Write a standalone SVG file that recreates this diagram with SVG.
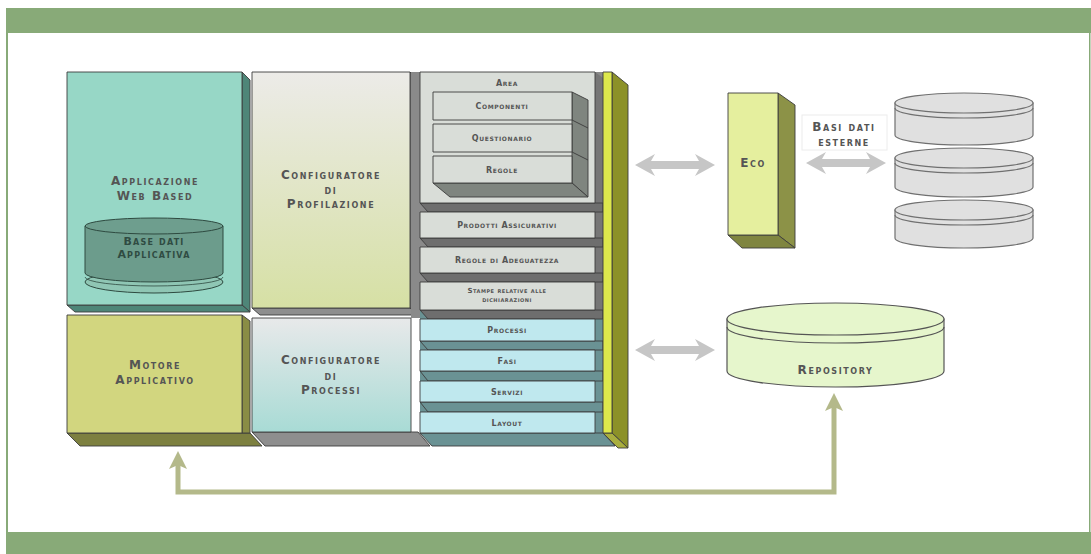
<svg xmlns="http://www.w3.org/2000/svg" width="1091" height="554" viewBox="0 0 1091 554">
<defs>
<style>
.t{font-family:"DejaVu Sans","Liberation Sans",sans-serif;font-variant:small-caps;font-weight:bold;fill:#555;text-anchor:middle}
.big{font-size:12px;letter-spacing:1.6px}
.mid{font-size:11px;letter-spacing:1.2px}
.sm{font-size:8px;letter-spacing:0.6px}
.xs{font-size:7px;letter-spacing:0.5px}
.edge{stroke:#3c3c3c;stroke-width:0.9;stroke-linejoin:round}
.gface{fill:#d9ddd8}
.cface{fill:#bfe8ee}
.gside{fill:#6e6e6e}
.tside{fill:#6a9294}
.db{fill:#e0e0e0;stroke:#707070;stroke-width:1.2}
.ring{fill:none;stroke:#707070;stroke-width:1.2}
.frame{fill:#88aa78}
</style>
<linearGradient id="gProf" x1="0" y1="0" x2="0" y2="1">
<stop offset="0" stop-color="#ecebe8"/>
<stop offset="1" stop-color="#d6e0a4"/>
</linearGradient>
<linearGradient id="gProc" x1="0" y1="0" x2="0" y2="1">
<stop offset="0" stop-color="#e8e9ea"/>
<stop offset="1" stop-color="#a8dbd5"/>
</linearGradient>
<marker id="oliveHead" markerUnits="userSpaceOnUse" markerWidth="20" markerHeight="18" viewBox="0 0 20 18" refX="5" refY="9" orient="auto-start-reverse">
<path d="M0,0 L18,9 L0,18 L4,9 Z" fill="#b4b98a"/>
</marker>
<path id="dbl" d="M0,0 L20,-11 L16,-4 L64,-4 L60,-11 L80,0 L60,11 L64,4 L16,4 L20,11 Z" fill="#c6c6c6"/>
</defs>

<g id="frame">
<rect class="frame" x="6" y="8" width="1085" height="25"/>
<rect class="frame" x="6" y="532" width="1085" height="22"/>
<rect class="frame" x="6" y="33" width="2" height="499"/>
<rect class="frame" x="1089" y="33" width="1.5" height="499"/>
</g>

<g id="app-web">
<polygon points="242,72 250,80 250,312 242,305" fill="#4e8678" class="edge"/>
<polygon points="67,305 242,305 250,312 75,312" fill="#4e8678" class="edge"/>
<rect x="67" y="72" width="175" height="233" fill="#97d7c6" class="edge"/>
<text class="t big" x="155" y="185">Applicazione</text>
<text class="t big" x="155" y="200">Web Based</text>
</g>

<g id="base-dati">
<ellipse cx="154" cy="282" rx="69" ry="11" fill="#8fc6b4" stroke="#2e4a40" stroke-width="1"/>
<path d="M85,226 L85,273 A69,9 0 0 0 223,273 L223,226 Z" fill="#6c9c8c" stroke="#2e4a40" stroke-width="1"/>
<ellipse cx="154" cy="226" rx="69" ry="8" fill="#6e9e8e" stroke="#2e4a40" stroke-width="1"/>
<path d="M85,277 A69,9 0 0 0 223,277" fill="none" stroke="#2e4a40" stroke-width="0.8"/>
<text class="t mid" x="154" y="245" style="fill:#2f4b42">Base dati</text>
<text class="t mid" x="154" y="258" style="fill:#2f4b42">Applicativa</text>
</g>

<g id="motore">
<polygon points="67,433 250,433 262,446 80,446" fill="#7d8040" class="edge"/>
<polygon points="242,315 250,321 250,433 242,433" fill="#8a8d45" class="edge"/>
<rect x="67" y="315" width="175" height="118" fill="#d2d67f" class="edge"/>
<text class="t big" x="155" y="369">Motore</text>
<text class="t big" x="155" y="384">Applicativo</text>
</g>

<g id="config-prof">
<polygon points="410,72 418,80 418,315 410,308" fill="#8e8e8e" class="edge"/>
<polygon points="252,308 410,308 418,315 260,315" fill="#8e8e8e" class="edge"/>
<rect x="252" y="72" width="158" height="236" fill="url(#gProf)" class="edge"/>
<text class="t big" x="331" y="179">Configuratore</text>
<text class="t big" x="331" y="194">di</text>
<text class="t big" x="331" y="208">Profilazione</text>
</g>

<g id="config-proc">
<polygon points="252,432 418,432 430,446 265,446" fill="#8e8e8e" class="edge"/>
<rect x="252" y="318" width="159" height="114" fill="url(#gProc)" class="edge"/>
<text class="t big" x="331" y="364">Configuratore</text>
<text class="t big" x="331" y="380">di</text>
<text class="t big" x="331" y="394">Processi</text>
</g>

<g id="column-back">
<rect x="411" y="72" width="192" height="246" fill="#8a8a8a"/>
<rect x="420" y="310" width="183" height="123" fill="#6a9294"/>
<polygon points="420,433 603,433 615,446 432,446" fill="#6a9294" class="edge"/>
<polygon points="595,72 603,78 603,318 595,318" fill="#767676"/>
</g>

<g id="area">
<polygon points="420,203 603,203 603,212 428,212" class="gside edge"/>
<rect x="420" y="72" width="175" height="131" class="gface edge"/>
<text class="t sm" x="507" y="86">Area</text>
<polygon points="572,92 588,100 588,197 572,183" fill="#7f857f" class="edge"/>
<polygon points="433,183 572,183 588,197 450,197" fill="#7f857f" class="edge"/>
<line x1="572" y1="120" x2="588" y2="128" class="edge"/>
<line x1="572" y1="152" x2="588" y2="160" class="edge"/>
</g>

<g id="componenti">
<rect x="433" y="92" width="139" height="28" class="gface edge"/>
<text class="t sm" x="502" y="109">Componenti</text>
</g>
<g id="questionario">
<rect x="433" y="124" width="139" height="28" class="gface edge"/>
<text class="t sm" x="502" y="141">Questionario</text>
</g>
<g id="regole">
<rect x="433" y="156" width="139" height="27" class="gface edge"/>
<text class="t sm" x="502" y="173">Regole</text>
</g>

<g id="prodotti">
<polygon points="420,238 603,238 603,247 428,247" class="gside edge"/>
<rect x="420" y="212" width="175" height="26" class="gface edge"/>
<text class="t sm" x="507" y="228">Prodotti Assicurativi</text>
</g>
<g id="regole-adeguatezza">
<polygon points="420,273 603,273 603,282 428,282" class="gside edge"/>
<rect x="420" y="247" width="175" height="26" class="gface edge"/>
<text class="t sm" x="507" y="263">Regole di Adeguatezza</text>
</g>
<g id="stampe">
<polygon points="420,310 603,310 603,319 428,319" class="gside edge"/>
<rect x="420" y="282" width="175" height="28" class="gface edge"/>
<text class="t xs" x="507" y="293">Stampe relative alle</text>
<text class="t xs" x="507" y="302">dichiarazioni</text>
</g>

<g id="processi">
<polygon points="420,341 603,341 603,350 428,350" class="tside edge"/>
<rect x="420" y="319" width="175" height="22" class="cface edge"/>
<text class="t sm" x="507" y="333">Processi</text>
</g>
<g id="fasi">
<polygon points="420,371 603,371 603,381 428,381" class="tside edge"/>
<rect x="420" y="350" width="175" height="21" class="cface edge"/>
<text class="t sm" x="507" y="364">Fasi</text>
</g>
<g id="servizi">
<polygon points="420,402 603,402 603,412 428,412" class="tside edge"/>
<rect x="420" y="381" width="175" height="21" class="cface edge"/>
<text class="t sm" x="507" y="395">Servizi</text>
</g>
<g id="layout">
<rect x="420" y="412" width="175" height="21" class="cface edge"/>
<text class="t sm" x="507" y="426">Layout</text>
</g>

<g id="yellow-bar">
<polygon points="612,72 628,85 628,448 612,433" fill="#8c9128" class="edge"/>
<polygon points="603,433 612,433 628,448 618,448" fill="#a9ae3e" class="edge"/>
<rect x="603" y="72" width="9" height="361" fill="#dde84c" class="edge"/>
</g>

<g id="eco">
<polygon points="778,93 795,105 795,248 778,235" fill="#8c9247" class="edge"/>
<polygon points="728,235 778,235 795,248 742,248" fill="#7f8540" class="edge"/>
<rect x="728" y="93" width="50" height="142" fill="#e5ef9e" class="edge"/>
<text class="t big" x="753" y="167">Eco</text>
</g>

<g id="basi-esterne">
<rect x="802" y="115" width="85" height="35" fill="#ffffff" stroke="#ececec" stroke-width="1"/>
<text class="t big" x="844" y="131">Basi dati</text>
<text class="t big" x="844" y="146">esterne</text>
</g>

<g id="db-stack">
<path class="db" d="M895,210 L895,238 A69,10 0 0 0 1033,238 L1033,210 Z"/>
<ellipse class="db" cx="964" cy="210" rx="69" ry="10"/>
<path class="ring" d="M895,215 A69,10 0 0 0 1033,215"/>
<path class="db" d="M895,158 L895,187 A69,10 0 0 0 1033,187 L1033,158 Z"/>
<ellipse class="db" cx="964" cy="158" rx="69" ry="10"/>
<path class="ring" d="M895,163 A69,10 0 0 0 1033,163"/>
<path class="db" d="M895,103 L895,135 A69,10 0 0 0 1033,135 L1033,103 Z"/>
<ellipse class="db" cx="964" cy="103" rx="69" ry="10"/>
<path class="ring" d="M895,108 A69,10 0 0 0 1033,108"/>
</g>

<g id="repository">
<path d="M727,319 L727,371 A108.5,16 0 0 0 944,371 L944,319 Z" fill="#e6f6cc" stroke="#555" stroke-width="1.2"/>
<ellipse cx="835.5" cy="319" rx="108.5" ry="16" fill="#e6f6cc" stroke="#555" stroke-width="1.2"/>
<path d="M727,327 A108.5,16 0 0 0 944,327" fill="none" stroke="#555" stroke-width="1.2"/>
<text class="t big" x="835.5" y="374">Repository</text>
</g>

<g id="connectors">
<use href="#dbl" x="635" y="165"/>
<use href="#dbl" x="806" y="163"/>
<use href="#dbl" x="635" y="350"/>
<path d="M178,464 L178,492 L834,492 L834,406" fill="none" stroke="#b4b98a" stroke-width="5" marker-start="url(#oliveHead)" marker-end="url(#oliveHead)"/>
</g>
</svg>
